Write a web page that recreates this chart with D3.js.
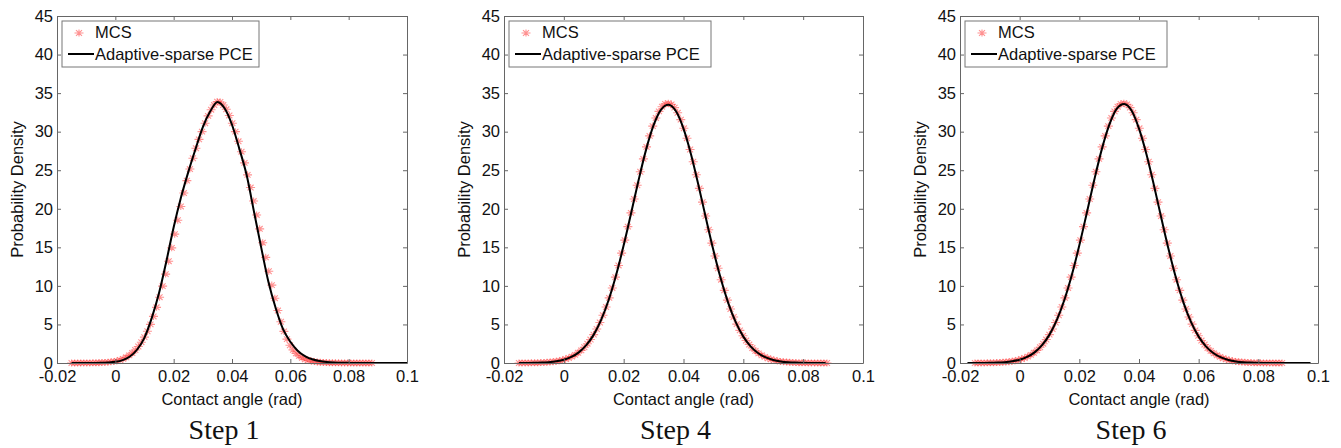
<!DOCTYPE html>
<html>
<head>
<meta charset="utf-8">
<script src="https://cdn.jsdelivr.net/npm/d3@7"></script>
<style>
  body { margin: 0; background: #fff; }
  svg { display: block; }
</style>
</head>
<body>
<div id="chart"></div>
<script>
// axis ticks and labels
const xTicks = [-0.02, 0, 0.02, 0.04, 0.06, 0.08, 0.1];
const xTickLabels = ["-0.02", "0", "0.02", "0.04", "0.06", "0.08", "0.1"];
const yTicks = [0, 5, 10, 15, 20, 25, 30, 35, 40, 45];
const stepTitles = ["Step 1", "Step 4", "Step 6"];
const legendLabels = ["MCS", "Adaptive-sparse PCE"];
const xLabel = "Contact angle (rad)";
const yLabel = "Probability Density";

// MCS kernel density: evaluation points (rad)
const mcsX = [
  -0.01500, -0.01396, -0.01292, -0.01188, -0.01084, -0.00980, -0.00876, -0.00772, -0.00668, -0.00564,
  -0.00460, -0.00356, -0.00252, -0.00148, -0.00044, 0.00060, 0.00164, 0.00268, 0.00372, 0.00476,
  0.00580, 0.00684, 0.00788, 0.00892, 0.00996, 0.01100, 0.01204, 0.01308, 0.01412, 0.01516,
  0.01620, 0.01724, 0.01828, 0.01932, 0.02036, 0.02140, 0.02244, 0.02348, 0.02452, 0.02556,
  0.02660, 0.02764, 0.02868, 0.02972, 0.03076, 0.03180, 0.03284, 0.03388, 0.03492, 0.03596,
  0.03700, 0.03804, 0.03908, 0.04012, 0.04116, 0.04220, 0.04324, 0.04428, 0.04532, 0.04636,
  0.04740, 0.04844, 0.04948, 0.05052, 0.05156, 0.05260, 0.05364, 0.05468, 0.05572, 0.05676,
  0.05780, 0.05884, 0.05988, 0.06092, 0.06196, 0.06300, 0.06404, 0.06508, 0.06612, 0.06716,
  0.06820, 0.06924, 0.07028, 0.07132, 0.07236, 0.07340, 0.07444, 0.07548, 0.07652, 0.07756,
  0.07860, 0.07964, 0.08068, 0.08172, 0.08276, 0.08380, 0.08484, 0.08588, 0.08692, 0.08796
];

// MCS density
const mcsStep1 = [
  0.00, 0.00, 0.00, 0.01, 0.01, 0.01, 0.01, 0.02, 0.03, 0.04,
  0.06, 0.08, 0.11, 0.15, 0.21, 0.28, 0.39, 0.54, 0.74, 0.99,
  1.30, 1.68, 2.14, 2.70, 3.35, 4.12, 5.01, 6.04, 7.22, 8.53,
  9.97, 11.53, 13.20, 14.93, 16.71, 18.51, 20.30, 22.04, 23.65, 25.15,
  26.55, 27.85, 29.00, 30.00, 31.10, 32.05, 32.85, 33.45, 33.90, 33.85,
  33.45, 32.90, 32.10, 31.10, 30.00, 28.75, 27.40, 25.95, 24.40, 22.75,
  21.00, 19.20, 17.40, 15.60, 13.70, 11.90, 10.10, 8.40, 6.80, 5.35,
  4.10, 3.10, 2.30, 1.70, 1.25, 0.92, 0.67, 0.48, 0.35, 0.25,
  0.18, 0.13, 0.09, 0.07, 0.05, 0.04, 0.03, 0.02, 0.02, 0.01,
  0.01, 0.01, 0.00, 0.00, 0.00, 0.00, 0.00, 0.00, 0.00, 0.00
];

// MCS density as read from the Step 4 / Step 6 panels
const mcsDensity = [
  0.00, 0.01, 0.01, 0.01, 0.02, 0.03, 0.04, 0.05, 0.07, 0.09,
  0.13, 0.17, 0.23, 0.30, 0.39, 0.51, 0.65, 0.83, 1.05, 1.32,
  1.64, 2.04, 2.50, 3.04, 3.68, 4.41, 5.25, 6.19, 7.26, 8.44,
  9.73, 11.14, 12.65, 14.25, 15.94, 17.68, 19.47, 21.27, 23.05, 24.80,
  26.47, 28.03, 29.46, 30.72, 31.78, 32.63, 33.24, 33.60, 33.70, 33.54,
  33.12, 32.45, 31.56, 30.44, 29.15, 27.69, 26.10, 24.41, 22.65, 20.86,
  19.06, 17.28, 15.55, 13.88, 12.29, 10.80, 9.42, 8.16, 7.00, 5.97,
  5.04, 4.23, 3.53, 2.91, 2.39, 1.94, 1.57, 1.25, 1.00, 0.79,
  0.61, 0.48, 0.37, 0.28, 0.21, 0.16, 0.12, 0.09, 0.06, 0.05,
  0.03, 0.02, 0.02, 0.01, 0.01, 0.01, 0.00, 0.00, 0.00, 0.00
];

// adaptive-sparse PCE density curve
const pceX = [
  -0.02, -0.0175, -0.015, -0.0125, -0.01, -0.0075, -0.005, -0.0025, 0, 0.0025,
  0.005, 0.0075, 0.01, 0.0125, 0.015, 0.0175, 0.02, 0.0225, 0.025, 0.0275,
  0.03, 0.0325, 0.035, 0.0375, 0.04, 0.0425, 0.045, 0.0475, 0.05, 0.0525,
  0.055, 0.0575, 0.06, 0.0625, 0.065, 0.0675, 0.07, 0.0725, 0.075, 0.0775,
  0.08, 0.0825, 0.085, 0.0875, 0.09, 0.0925, 0.095, 0.0975, 0.1
];
const pceStep1 = [
  null, null, 0.00, 0.00, 0.00, 0.01, 0.02, 0.06, 0.15, 0.38,
  0.85, 1.75, 3.30, 5.85, 9.10, 13.20, 17.60, 21.45, 24.75, 27.75,
  30.60, 32.60, 33.85, 33.00, 30.90, 27.80, 24.40, 19.70, 15.00, 10.50,
  7.10, 4.40, 2.75, 1.60, 0.90, 0.48, 0.25, 0.12, 0.06, 0.03,
  0.02, 0.01, 0.01, 0.00, 0.00, 0.00, 0.00, 0.00, 0.00
];
const pceStep4 = [
  null, null, 0.00, 0.01, 0.02, 0.05, 0.11, 0.23, 0.43, 0.79,
  1.38, 2.31, 3.68, 5.62, 8.20, 11.44, 15.26, 19.46, 23.73, 27.67,
  30.84, 32.87, 33.50, 32.64, 30.40, 27.08, 23.06, 18.77, 14.61, 10.88,
  7.74, 5.27, 3.42, 2.13, 1.27, 0.72, 0.39, 0.20, 0.10, 0.05,
  0.02, 0.01, 0.00, 0.00, null, null, null, null, null
];
const pceStep6 = [
  null, 0.00, 0.00, 0.01, 0.02, 0.05, 0.11, 0.23, 0.43, 0.79,
  1.38, 2.31, 3.68, 5.62, 8.20, 11.44, 15.26, 19.46, 23.73, 27.67,
  30.84, 32.95, 33.60, 32.75, 30.40, 27.08, 23.06, 18.77, 14.61, 10.88,
  7.74, 5.27, 3.42, 2.13, 1.27, 0.72, 0.39, 0.20, 0.10, 0.05,
  0.02, 0.01, 0.00, 0.00, 0.00, 0.00, 0.00, 0.00, null
];

// layout
const W = 1341, H = 448;
const plotTop = 16, plotBottom = 363;
const sans = "'Liberation Sans', Arial, Helvetica, sans-serif";
const serif = "'Liberation Serif', 'Times New Roman', serif";
const axisColor = "#666";
const textColor = "#111";

const panels = [
  { title: stepTitles[0], left: 57,  right: 407,  legendW: 197, mcs: mcsStep1,   pce: pceStep1 },
  { title: stepTitles[1], left: 504, right: 863,  legendW: 202, mcs: mcsDensity, pce: pceStep4 },
  { title: stepTitles[2], left: 960, right: 1318, legendW: 202, mcs: mcsDensity, pce: pceStep6 }
];

// matlab style '*' marker (a bit wider than tall, like the scan)
const star = "M-4.5,0H4.5M0,-3.5V3.5M-3,-2.8L3,2.8M-3,2.8L3,-2.8";
const markerColor = "#ff2626";

const svg = d3.select("#chart").append("svg")
  .attr("width", W)
  .attr("height", H);

svg.append("rect").attr("width", W).attr("height", H).attr("fill", "#fff");

function styleAxis(sel) {
  sel.select(".domain").attr("stroke", axisColor);
  sel.selectAll(".tick line").attr("stroke", axisColor);
  sel.selectAll("text")
    .attr("fill", textColor)
    .attr("font-family", sans)
    .attr("font-size", "16.5px");
}

panels.forEach(p => {
  const x = d3.scaleLinear()
    .domain([xTicks[0], xTicks[xTicks.length - 1]])
    .range([p.left, p.right]);
  const y = d3.scaleLinear()
    .domain([yTicks[0], yTicks[yTicks.length - 1]])
    .range([plotBottom, plotTop]);

  const g = svg.append("g");

  // MCS markers
  g.append("g")
    .selectAll("path")
    .data(mcsX.map((v, i) => ({ x: v, y: p.mcs[i] })))
    .join("path")
    .attr("d", star)
    .attr("transform", d => `translate(${x(d.x)},${y(d.y)})`)
    .attr("fill", "none")
    .attr("stroke", markerColor)
    .attr("stroke-width", 1.1)
    .attr("opacity", 0.5);

  // PCE curve
  const line = d3.line()
    .defined(d => d.y !== null)
    .x(d => x(d.x))
    .y(d => y(d.y))
    .curve(d3.curveMonotoneX);

  g.append("path")
    .datum(pceX.map((v, i) => ({ x: v, y: p.pce[i] })))
    .attr("d", line)
    .attr("fill", "none")
    .attr("stroke", "#000")
    .attr("stroke-width", 2);

  // box axes with inward ticks
  g.append("g")
    .attr("transform", `translate(0,${plotBottom})`)
    .call(d3.axisBottom(x).tickValues(xTicks).tickFormat((d, i) => xTickLabels[i])
      .tickSizeInner(-4).tickSizeOuter(0).tickPadding(7))
    .call(styleAxis);
  g.append("g")
    .attr("transform", `translate(0,${plotTop})`)
    .call(d3.axisTop(x).tickValues(xTicks).tickFormat("").tickSizeInner(-4).tickSizeOuter(0))
    .call(styleAxis);
  g.append("g")
    .attr("transform", `translate(${p.left},0)`)
    .call(d3.axisLeft(y).tickValues(yTicks).tickSizeInner(-4).tickSizeOuter(0).tickPadding(4))
    .call(styleAxis);
  g.append("g")
    .attr("transform", `translate(${p.right},0)`)
    .call(d3.axisRight(y).tickValues(yTicks).tickFormat("").tickSizeInner(-4).tickSizeOuter(0))
    .call(styleAxis);

  // legend
  const lg = g.append("g").attr("transform", `translate(${p.left + 5},21)`);
  lg.append("rect")
    .attr("width", p.legendW)
    .attr("height", 46)
    .attr("fill", "#fff")
    .attr("stroke", "#777");
  lg.append("path")
    .attr("d", star)
    .attr("transform", "translate(17,12)")
    .attr("fill", "none")
    .attr("stroke", markerColor)
    .attr("stroke-width", 1.1)
    .attr("opacity", 0.5);
  lg.append("line")
    .attr("x1", 6).attr("x2", 32)
    .attr("y1", 33).attr("y2", 33)
    .attr("stroke", "#000")
    .attr("stroke-width", 2);
  lg.selectAll("text.lab")
    .data(legendLabels)
    .join("text")
    .attr("class", "lab")
    .attr("x", 33)
    .attr("y", (d, i) => 17 + i * 22)
    .attr("font-family", sans)
    .attr("font-size", "16.5px")
    .attr("fill", textColor)
    .text(d => d);

  // axis titles
  g.append("text")
    .attr("x", (p.left + p.right) / 2)
    .attr("y", 405)
    .attr("text-anchor", "middle")
    .attr("font-family", sans)
    .attr("font-size", "16.5px")
    .attr("fill", textColor)
    .text(xLabel);

  g.append("text")
    .attr("transform", `translate(${p.left - 34},${(plotTop + plotBottom) / 2}) rotate(-90)`)
    .attr("text-anchor", "middle")
    .attr("font-family", sans)
    .attr("font-size", "16.5px")
    .attr("fill", textColor)
    .text(yLabel);

  // step caption
  g.append("text")
    .attr("x", (p.left + p.right) / 2 - 8)
    .attr("y", 439)
    .attr("text-anchor", "middle")
    .attr("font-family", serif)
    .attr("font-size", "28px")
    .attr("fill", textColor)
    .text(p.title);
});
</script>
</body>
</html>
